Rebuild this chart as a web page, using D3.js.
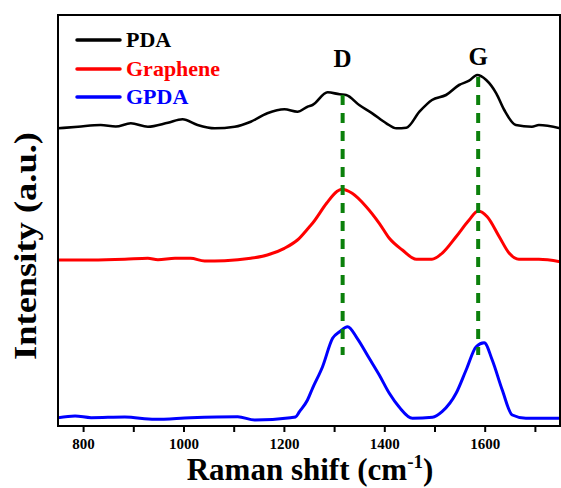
<!DOCTYPE html>
<html>
<head>
<meta charset="utf-8">
<script src="https://cdn.jsdelivr.net/npm/d3@7"></script>
<style>
  html, body { margin: 0; padding: 0; background: #ffffff; }
  svg { display: block; }
  text { font-family: "Liberation Serif", "Times New Roman", serif; font-weight: bold; }
</style>
</head>
<body>
<svg id="chart" width="561" height="488"></svg>
<script>
// ---- Data ----
const seriesNames = ["PDA", "Graphene", "GPDA"];
const seriesColors = ["#000000", "#ff0000", "#0000ff"];

// Raman shift (cm-1) and intensity (a.u., offset stacked)
const pdaShift = [750, 790, 835, 865, 895, 929, 969, 998, 1028, 1062, 1102, 1134, 1167, 1201, 1227, 1247, 1257, 1287, 1311, 1324, 1350, 1376, 1404, 1424, 1444, 1470, 1495, 1523, 1549, 1569, 1585, 1603, 1623, 1639, 1662, 1694, 1708, 1750];
const pdaInt   = [297.7, 299.3, 301, 299.5, 302.7, 299.3, 303.3, 306.7, 301, 297.7, 299.3, 304.3, 312.7, 316.7, 314.3, 319.3, 321, 333.7, 331.7, 331, 321, 312.7, 302.7, 297.7, 298.3, 314.3, 326, 331, 341, 345.3, 351, 346, 332.7, 316, 301, 299.3, 301, 297.7];

const grShift = [750, 816, 883, 929, 949, 983, 1014, 1042, 1082, 1134, 1167, 1201, 1227, 1251, 1257, 1285, 1305, 1315, 1336, 1364, 1390, 1410, 1436, 1464, 1495, 1515, 1543, 1569, 1587, 1605, 1629, 1649, 1668, 1708, 1750];
const grInt   = [166, 166, 166.7, 167.7, 166.3, 167.7, 167.7, 165, 165.3, 167.7, 171, 177.7, 186, 199.3, 202.7, 222.7, 234.3, 236.7, 232.7, 219.3, 202.7, 187.7, 176, 166.7, 166.7, 172.7, 189.3, 206, 215, 209.3, 189.3, 172.7, 166.7, 166.7, 164.3];

const gpShift = [750, 784, 816, 883, 943, 1014, 1108, 1142, 1213, 1223, 1231, 1247, 1257, 1277, 1297, 1311, 1327, 1346, 1370, 1390, 1410, 1430, 1456, 1496, 1515, 1543, 1563, 1583, 1599, 1615, 1635, 1655, 1682, 1750];
const gpInt   = [8.3, 10, 8.3, 9, 6.7, 8.3, 9.3, 6, 8.3, 9, 14.3, 26, 37.7, 59.3, 87.7, 94.3, 99.3, 87.7, 67.7, 51, 32.7, 18.7, 7.7, 8.7, 14.3, 32.7, 56, 79.3, 83.3, 66, 36, 11, 7.7, 7.7];

// Peak markers
const peakLabels = ["D", "G"];
const peakShift = [1317, 1587];
const peakTop = [331, 349];     // intensity where the dashed line starts
const peakBottom = [71];        // intensity where the dashed lines end

// Axis ticks
const xDomain = [750, 1750];
const yDomain = [0, 411];
const xTicks = [800, 900, 1000, 1100, 1200, 1300, 1400, 1500, 1600, 1700];
const xTickLabels = ["800", "", "1000", "", "1200", "", "1400", "", "1600", ""];

// ---- Layout ----
const svg = d3.select("#chart");
const mLeft = 58, mRight = 560, mTop = 15, mBottom = 426;

const x = d3.scaleLinear().domain(xDomain).range([mLeft, mRight]);
const y = d3.scaleLinear().domain(yDomain).range([mBottom, mTop]);

const series = [
  { shift: pdaShift, inten: pdaInt, width: 2.6 },
  { shift: grShift, inten: grInt, width: 3 },
  { shift: gpShift, inten: gpInt, width: 3 }
];

svg.append("clipPath").attr("id", "clip")
  .append("rect").attr("x", mLeft).attr("y", mTop).attr("width", mRight - mLeft).attr("height", mBottom - mTop);

const line = d3.line().x(d => x(d[0])).y(d => y(d[1])).curve(d3.curveMonotoneX);

const plot = svg.append("g").attr("clip-path", "url(#clip)");
series.forEach((s, i) => {
  const pts = s.shift.map((v, j) => [v, s.inten[j]]);
  plot.append("path")
    .datum(pts)
    .attr("d", line)
    .attr("fill", "none")
    .attr("stroke", seriesColors[i])
    .attr("stroke-width", s.width)
    .attr("stroke-linejoin", "round");
});

// Dashed peak lines
peakShift.forEach((p, i) => {
  svg.append("line")
    .attr("x1", x(p)).attr("x2", x(p))
    .attr("y1", y(peakTop[i])).attr("y2", y(peakBottom[0]))
    .attr("stroke", "#0b800b")
    .attr("stroke-width", 4)
    .attr("stroke-dasharray", "10,8");
  svg.append("text")
    .attr("x", x(p)).attr("y", i === 0 ? 67 : 65)
    .attr("text-anchor", "middle")
    .attr("font-size", 25)
    .attr("fill", "#000")
    .text(peakLabels[i]);
});

// Frame
svg.append("rect")
  .attr("x", mLeft).attr("y", mTop)
  .attr("width", mRight - mLeft).attr("height", mBottom - mTop)
  .attr("fill", "none").attr("stroke", "#000").attr("stroke-width", 2);

// X axis
const xAxis = d3.axisBottom(x)
  .tickValues(xTicks)
  .tickSize(6)
  .tickPadding(6)
  .tickFormat((d, i) => xTickLabels[i]);
const gx = svg.append("g").attr("transform", `translate(0,${mBottom})`).call(xAxis);
gx.select(".domain").remove();
gx.selectAll(".tick line").attr("stroke", "#000").attr("stroke-width", 2);
gx.selectAll(".tick text")
  .attr("font-family", "'Liberation Serif', 'Times New Roman', serif")
  .attr("font-weight", "bold")
  .attr("font-size", 15)
  .attr("fill", "#000");

// Axis titles
const xt = svg.append("text")
  .attr("x", 310).attr("y", 480)
  .attr("text-anchor", "middle")
  .attr("font-size", 31)
  .attr("fill", "#000");
xt.append("tspan").text("Raman shift (cm");
xt.append("tspan").attr("font-size", 19).attr("dy", -12).text("-1");
xt.append("tspan").attr("dy", 12).text(")");

svg.append("text")
  .attr("transform", "translate(36,246) rotate(-90)")
  .attr("text-anchor", "middle")
  .attr("font-size", 31)
  .attr("textLength", 228)
  .attr("lengthAdjust", "spacingAndGlyphs")
  .attr("fill", "#000")
  .text("Intensity (a.u.)");

// Legend
const legendY = [40, 69, 97];
seriesNames.forEach((name, i) => {
  svg.append("line")
    .attr("x1", 77).attr("x2", 120)
    .attr("y1", legendY[i]).attr("y2", legendY[i])
    .attr("stroke", seriesColors[i])
    .attr("stroke-width", 3.5)
    .attr("stroke-linecap", "round");
  svg.append("text")
    .attr("x", 126).attr("y", legendY[i] + 7)
    .attr("font-size", 22)
    .attr("fill", seriesColors[i])
    .text(name);
});
</script>
</body>
</html>
